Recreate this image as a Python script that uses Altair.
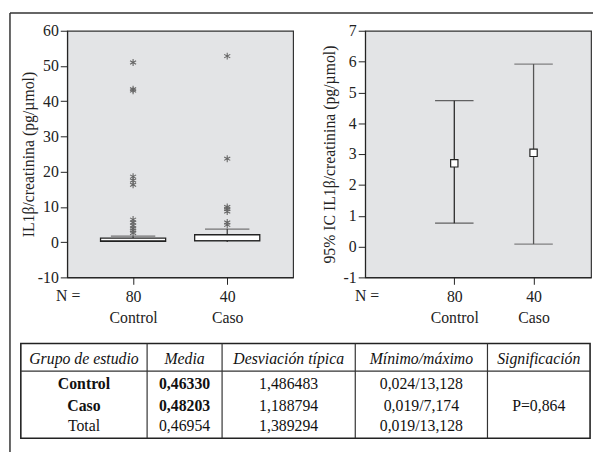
import altair as alt
import pandas as pd

FONT = "Liberation Serif, Times New Roman, DejaVu Serif, serif"

# ---------------- data ----------------
GROUPS = ["Control", "Caso"]
N_COUNTS = [80, 40]

BOX_LOW = [0.02, 0.02]
BOX_Q1 = [0.25, 0.35]
BOX_MED = [0.5, 0.5]
BOX_Q3 = [1.15, 2.1]
BOX_HIGH = [1.7, 3.7]

OUT_CONTROL = [51.0, 43.4, 43.0, 18.6, 17.5, 16.3, 6.4, 5.6, 4.7, 3.9, 3.3, 2.6]
OUT_CASO = [52.8, 23.7, 10.0, 9.4, 8.7, 5.6, 4.9]

CI_MEAN = [2.70, 3.04]
CI_LOW = [0.76, 0.08]
CI_HIGH = [4.73, 5.92]

Y_LEFT_TICKS = [-10, 0, 10, 20, 30, 40, 50, 60]
Y_RIGHT_TICKS = [-1, 0, 1, 2, 3, 4, 5, 6, 7]

TABLE_HEADER = ["Grupo de estudio", "Media", "Desviación típica", "Mínimo/máximo", "Significación"]
TABLE_GROUP = ["Control", "Caso", "Total"]
TABLE_MEAN = ["0,46330", "0,48203", "0,46954"]
TABLE_SD = ["1,486483", "1,188794", "1,389294"]
TABLE_MINMAX = ["0,024/13,128", "0,019/7,174", "0,019/13,128"]
TABLE_SIGNIF = "P=0,864"

# ---------------- layout constants ----------------
W, H = 229, 250
TABLE_COL_WIDTHS = [128, 76, 135, 134, 104]
TABLE_ROW_Y = [16, 41, 63.5, 84]
TABLE_H = 96
TABLE_HEAD_LINE = 28

AX = "#222222"
STAR = "M0,-1L0,1M-0.87,-0.5L0.87,0.5M-0.87,0.5L0.87,-0.5"


def xlabel_expr():
    (g0, g1), (n0, n1) = GROUPS, N_COUNTS
    return f"datum.value == '{g0}' ? ['{n0}', '{g0}'] : ['{n1}', '{g1}']"


def x_axis():
    return alt.Axis(title=None, labelAngle=0, tickSize=7, labelPadding=4,
                    labelLineHeight=22, labelExpr=xlabel_expr(), labelOverlap=False,
                    labelFontSize=16, labelColor=AX, domainColor=AX, tickColor=AX,
                    labelFont=FONT)


def y_axis(title, values, tpad):
    return alt.Axis(title=title, values=values, tickSize=7, labelPadding=2,
                    titlePadding=tpad, grid=False, format="d",
                    labelExpr="replace(datum.label, '\u2212', '-')",
                    labelOverlap=False, labelFlush=False, labelSeparation=0,
                    labelFontSize=16, titleFontSize=16, titleFontWeight="normal",
                    labelColor=AX, titleColor=AX, domainColor=AX, tickColor=AX,
                    labelFont=FONT, titleFont=FONT)


# ---------------- left panel: box plot ----------------
box_df = pd.DataFrame({"g": GROUPS, "low": BOX_LOW, "q1": BOX_Q1, "med": BOX_MED,
                       "q3": BOX_Q3, "high": BOX_HIGH})
out_df = pd.DataFrame({"g": ["Control"] * len(OUT_CONTROL) + ["Caso"] * len(OUT_CASO),
                       "v": OUT_CONTROL + OUT_CASO})

xs_left = alt.X("g:N", sort=GROUPS,
                scale=alt.Scale(type="point", domain=GROUPS, padding=0.7, align=0.5),
                axis=x_axis())
ys_left = alt.Scale(domain=[-10, 60], nice=False, zero=False)
yaxis_left = y_axis("IL1β/creatinina (pg/µmol)", Y_LEFT_TICKS, 1)

base_box = alt.Chart(box_df)
whisker = base_box.mark_rule(color="#333", strokeWidth=1.2).encode(
    x=xs_left, y=alt.Y("low:Q", scale=ys_left, axis=yaxis_left), y2="high:Q")
box = base_box.mark_bar(size=66, fill="white", stroke="#222", strokeWidth=1.3).encode(
    x=xs_left, y=alt.Y("q1:Q", scale=ys_left, axis=yaxis_left), y2="q3:Q")
med = base_box.mark_tick(size=66, thickness=1, color="#222").encode(
    x=xs_left, y=alt.Y("med:Q", scale=ys_left, axis=yaxis_left))
cap = base_box.mark_tick(size=45, thickness=1.2, color="#444").encode(
    x=xs_left, y=alt.Y("high:Q", scale=ys_left, axis=yaxis_left))
stars = alt.Chart(out_df).mark_point(shape=STAR, size=50, color="#666", strokeWidth=1.1,
                                     filled=False, opacity=1).encode(
    x=xs_left, y=alt.Y("v:Q", scale=ys_left, axis=yaxis_left))
n_left = alt.Chart(pd.DataFrame({"t": ["N ="]})).mark_text(
    font=FONT, fontSize=16, color=AX, baseline="middle", align="center").encode(
    text="t:N", x=alt.value(1), y=alt.value(H + 19))

left_plot = alt.layer(whisker, box, med, cap, stars, n_left)

# ---------------- table (drawn under the left panel) ----------------
edges = [0]
for w in TABLE_COL_WIDTHS:
    edges.append(edges[-1] + w)
centers = [(edges[i] + edges[i + 1]) / 2 for i in range(len(TABLE_COL_WIDTHS))]

tx = alt.Scale(domain=[0, edges[-1]], range=[-47, 530], nice=False, zero=False)
ty = alt.Scale(domain=[0, TABLE_H], range=[317, 413], nice=False, zero=False)

lines = [{"x": 0, "x2": edges[-1], "y": TABLE_HEAD_LINE, "y2": TABLE_HEAD_LINE}]
for e in edges[1:-1]:
    lines.append({"x": e, "x2": e, "y": 0, "y2": TABLE_H})
lines_df = pd.DataFrame(lines)

frame = alt.Chart(pd.DataFrame([{"x": 0, "x2": edges[-1], "y": 0, "y2": TABLE_H}])).mark_rect(
    fillOpacity=0, stroke="#222", strokeWidth=1.6).encode(
    x=alt.X("x:Q", scale=tx, axis=None), x2="x2:Q",
    y=alt.Y("y:Q", scale=ty, axis=None), y2="y2:Q")
grid = alt.Chart(lines_df).mark_rule(color="#333", strokeWidth=1.2).encode(
    x=alt.X("x:Q", scale=tx, axis=None), x2="x2:Q",
    y=alt.Y("y:Q", scale=ty, axis=None), y2="y2:Q")

head_df = pd.DataFrame({"x": centers, "y": [TABLE_ROW_Y[0]] * 5, "t": TABLE_HEADER})
cells_bold, cells_norm = [], []
cols = [TABLE_GROUP, TABLE_MEAN, TABLE_SD, TABLE_MINMAX]
for r in range(3):
    for c, col in enumerate(cols):
        rec = {"x": centers[c], "y": TABLE_ROW_Y[r + 1], "t": col[r]}
        if r < 2 and c < 2:
            cells_bold.append(rec)
        else:
            cells_norm.append(rec)
cells_norm.append({"x": centers[4], "y": TABLE_ROW_Y[2], "t": TABLE_SIGNIF})


def text_layer(df, **kw):
    return alt.Chart(pd.DataFrame(df)).mark_text(
        font=FONT, fontSize=16, color="#111", baseline="middle", align="center", **kw).encode(
        x=alt.X("x:Q", scale=tx, axis=None), y=alt.Y("y:Q", scale=ty, axis=None), text="t:N")


table = alt.layer(frame, grid, text_layer(head_df, fontStyle="italic"),
                  text_layer(cells_bold, fontWeight="bold"), text_layer(cells_norm))

# ---------------- page border (decoration) ----------------
border = alt.layer(
    alt.Chart(pd.DataFrame({"k": [0]})).mark_rule(color="#333", strokeWidth=1.5).encode(
        x=alt.value(-58), x2=alt.value(533), y=alt.value(-18)),
    alt.Chart(pd.DataFrame({"k": [0]})).mark_rule(color="#333", strokeWidth=1.5).encode(
        x=alt.value(-58), y=alt.value(-18), y2=alt.value(427)),
)

left = alt.layer(left_plot, table, border).resolve_scale(
    x="independent", y="independent").properties(width=W, height=H)

# ---------------- right panel: 95% CI ----------------
ci_df = pd.DataFrame({"g": GROUPS, "m": CI_MEAN, "lo": CI_LOW, "hi": CI_HIGH})
xs_right = alt.X("g:N", sort=GROUPS,
                 scale=alt.Scale(type="point", domain=GROUPS, padding=0.925, align=0.608),
                 axis=x_axis())
ys_right = alt.Scale(domain=[-1, 7], nice=False, zero=False)
yaxis_right = y_axis("95% IC IL1β/creatinina (pg/µmol)", Y_RIGHT_TICKS, 6)
ci_color = alt.Color("g:N", scale=alt.Scale(domain=GROUPS, range=["#2a2a2a", "#555555"]),
                     legend=None)
base_ci = alt.Chart(ci_df)
ci_rule = base_ci.mark_rule(strokeWidth=1.3).encode(
    x=xs_right, y=alt.Y("lo:Q", scale=ys_right, axis=yaxis_right), y2="hi:Q", color=ci_color)
cap_lo = base_ci.mark_tick(size=39, thickness=1.3).encode(
    x=xs_right, y=alt.Y("lo:Q", scale=ys_right, axis=yaxis_right), color=ci_color)
cap_hi = base_ci.mark_tick(size=39, thickness=1.3).encode(
    x=xs_right, y=alt.Y("hi:Q", scale=ys_right, axis=yaxis_right), color=ci_color)
mean_pt = base_ci.mark_point(shape="square", size=55, filled=True, fill="white",
                             stroke="#222", strokeWidth=1.2, opacity=1).encode(
    x=xs_right, y=alt.Y("m:Q", scale=ys_right, axis=yaxis_right))
n_right = alt.Chart(pd.DataFrame({"t": ["N ="]})).mark_text(
    font=FONT, fontSize=16, color=AX, baseline="middle", align="center").encode(
    text="t:N", x=alt.value(2), y=alt.value(H + 19))

right = alt.layer(ci_rule, cap_lo, cap_hi, mean_pt, n_right).properties(width=W, height=H)

chart = alt.hconcat(left, right, spacing=73, bounds="flush").properties(
    padding=0, background="white"
).configure(font=FONT).configure_axis(labelOverlap=False).configure_view(
    fill="#e3e4e6", stroke="#333", strokeWidth=1.2)

chart.save("out.html", embed_options={"renderer": "svg", "actions": False})
